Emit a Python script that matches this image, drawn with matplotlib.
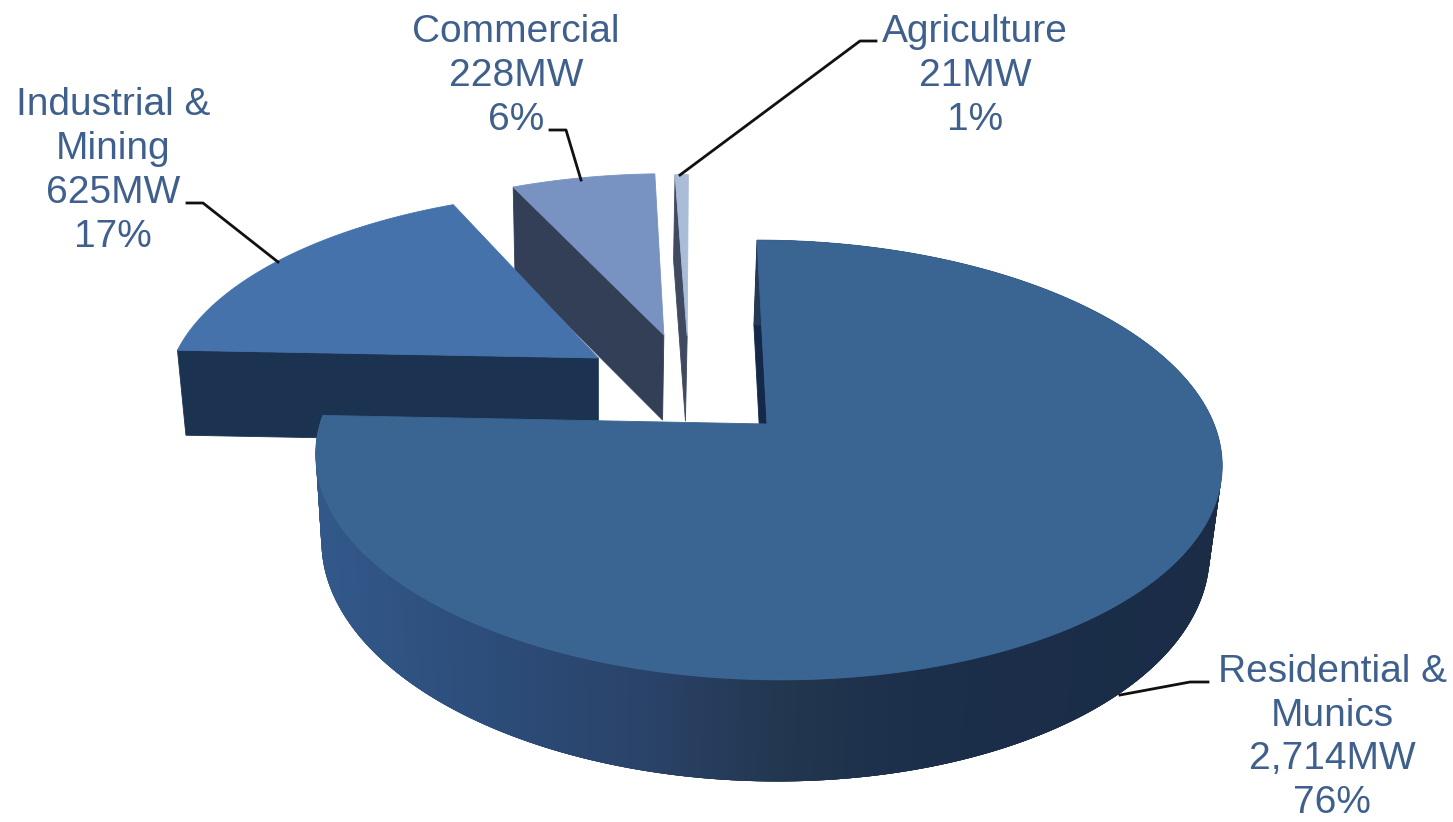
import numpy as np
import matplotlib
matplotlib.use("Agg")
import matplotlib.pyplot as plt
from matplotlib.collections import PolyCollection
from matplotlib.colors import LinearSegmentedColormap, Normalize

# Installed capacity by customer sector, clockwise from twelve o'clock
sectors = [["Residential &", "Munics"], ["Industrial &", "Mining"], ["Commercial"], ["Agriculture"]]
capacity_mw = [2714, 625, 228, 21]

# Ground-plane offset of each exploded slice
explode_x = [0.0, -0.389, -0.236, -0.180]
explode_y = [0.0, 0.325, 0.446, 0.440]
top_colors = ["#3A6592", "#4672AB", "#7892C2", "#A9BDD8"]
side_colors = ["#14294A", "#1B3350", "#333F56", "#3F4A60"]

label_pos = [(1332, 737.5), (113, 171), (516, 76), (975, 76)]
label_spacing = [1.265, 1.29, 1.29, 1.29]
leaders = [
    [(1208, 682), (1190, 682), (1120, 695)],
    [(187, 203), (203, 203), (278, 262)],
    [(550, 130), (566, 130), (581, 180)],
    [(876, 41), (860, 41), (680, 175)],
]
TEXT_COLOR = "#3F608C"

# Camera model: apex on screen, plane scales, perspective strength, shear and slab depth
X0, Y0 = 767.0, 424.0
SCALE_X, SCALE_Y = 447.0, 214.0
PERSP, SHEAR = 0.1636, -11.6
DEPTH, CONVERGE, VANISH_X = 85.0, 0.02, 600.0


def project(x, y):
    w = 1 + PERSP * y
    return X0 + (SCALE_X * x + SHEAR * y) / w, Y0 - SCALE_Y * y / w


def project_base(x, y):
    sx, sy = project(x, y)
    # The slab only thickens on screen towards the viewer
    return sx + CONVERGE * (VANISH_X - sx), sy + DEPTH / (1 + PERSP * np.minimum(y, 0))


fig = plt.figure(figsize=(14.53, 8.22), dpi=100, facecolor="white")
ax = fig.add_axes([0, 0, 1, 1])
ax.set_xlim(0, 1453)
ax.set_ylim(822, 0)
ax.axis("off")

values = np.array(capacity_mw, dtype=float)
sweeps = 360 * values / values.sum()
starts = np.concatenate([[0], np.cumsum(sweeps)[:-1]])

wall_cmap = LinearSegmentedColormap.from_list(
    "wall",
    [(0.0, "#32588A"), (0.2, "#2C4C78"), (0.37, "#2A4268"), (0.52, "#22364F"),
     (0.68, "#1B2E4A"), (1.0, "#1A2C46")],
)
wall_norm = Normalize(320, 1220)

# Painted from the back of the scene to the front
for i in range(len(values) - 1, -1, -1):
    theta = np.radians(np.linspace(starts[i], starts[i] + sweeps[i], 400))
    rim_x = explode_x[i] + np.sin(theta)
    rim_y = explode_y[i] + np.cos(theta)

    # Cut face along the leading radius
    face_top = [project(rim_x[0], rim_y[0]), project(explode_x[i], explode_y[i])]
    face_low = [project_base(explode_x[i], explode_y[i]), project_base(rim_x[0], rim_y[0])]
    ax.fill(*zip(*(face_top + face_low)), color=side_colors[i], lw=0.6, zorder=2 + 3 * (3 - i))

    # Curved outer wall, shaded from left to right; overlapping strips avoid seams
    if i == 0:
        tx, ty = project(rim_x, rim_y)
        bx, by = project_base(rim_x, rim_y)
        n = len(theta)
        quads = [[(tx[k], ty[k]), (tx[min(k + 4, n - 1)], ty[min(k + 4, n - 1)]),
                  (bx[min(k + 4, n - 1)], by[min(k + 4, n - 1)]), (bx[k], by[k])]
                 for k in range(n - 1)]
        shades = wall_cmap(wall_norm((tx[:-1] + tx[1:]) / 2))
        ax.add_collection(PolyCollection(quads, facecolors=shades, edgecolors="none",
                                         linewidths=0, zorder=3 + 3 * (3 - i)))

    # Top surface
    sx, sy = project(np.r_[explode_x[i], rim_x], np.r_[explode_y[i], rim_y])
    ax.fill(sx, sy, color=top_colors[i], lw=0.6, zorder=4 + 3 * (3 - i))

# Leader lines and data labels
for name, mw, pos, spacing, path in zip(sectors, capacity_mw, label_pos, label_spacing, leaders):
    ax.plot(*zip(*path), color="#111111", lw=2.0, solid_joinstyle="round", zorder=30)
    lines = name + [f"{mw:,}MW", f"{round(100 * mw / sum(capacity_mw))}%"]
    ax.text(pos[0], pos[1], "\n".join(lines), ha="center", va="center", ma="center",
            fontsize=28, color=TEXT_COLOR, family="Liberation Sans", linespacing=spacing, zorder=31)

fig.savefig("out.png", dpi=100, facecolor="white")
